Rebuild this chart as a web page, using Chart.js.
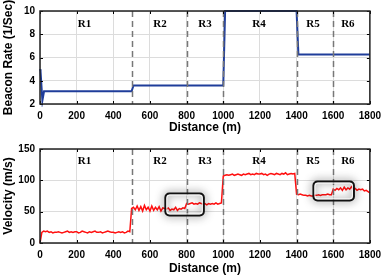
<!DOCTYPE html>
<html lang="en">
<head>
<meta charset="UTF-8">
<title>Beacon rate and velocity</title>
<script src="https://cdn.jsdelivr.net/npm/chart.js"></script>
<style>
  body { margin: 0; background: #fff; }
  .wrap { position: absolute; left: 0; width: 387px; height: 138px; }
</style>
</head>
<body>
<div class="wrap" style="top:0"><canvas id="rateChart" width="387" height="138"></canvas></div>
<div class="wrap" style="top:138px"><canvas id="velChart" width="387" height="138"></canvas></div>
<script>
// region boundaries and labels
const regionBounds = [500, 800, 1000, 1400, 1600];
const regionNames = ['R1', 'R2', 'R3', 'R4', 'R5', 'R6'];
const regionCenters = [243, 655, 900, 1195, 1490, 1680];

// beacon rate (1/s) vs distance (m)
const beaconDist = [0, 3, 13, 22, 500, 510, 1000, 1010, 1400, 1410, 1800];
const beaconRate = [5.0, 4.8, 2.3, 3.1, 3.1, 3.6, 3.6, 10, 10, 6.25, 6.25];

// velocity (m/s), one sample every 10 m from 0 to 1800
const velStep = 10;
const velocity = [
  0, 17,
  19,18,19,17,18,16,17,17,18,17,
  16,17,18,19,17,18,17,18,18,16,
  17,19,18,17,16,18,17,18,19,17,
  17,18,16,17,18,19,18,17,17,16,
  17,18,17,18,16,17,19,
  18,
  55,57,53,59,52,58,51,60,53,57,
  51,59,52,57,53,58,51,56,55,54,
  56,52,54,53,57,52,55,54,56,55,
  63,62,63,64,62,63,62,64,63,62,63,61,63,62,63,62,64,62,63,64,
  107,108,109,108,109,110,108,109,110,109,108,110,109,110,111,109,110,109,111,110,
  110,111,109,110,108,110,111,110,109,111,110,109,111,110,112,109,110,111,110,111,
  78,77,78,77,76,76,75,76,75,75,76,76,77,76,77,77,77,78,77,77,
  86,84,87,85,88,84,89,85,88,86,90,85,87,84,86,85,86,83,84,82,80
];

const tickFont = { family: 'Liberation Sans, Arial, sans-serif', size: 10, weight: 'bold' };
const titleFont = { family: 'Liberation Sans, Arial, sans-serif', size: 12, weight: 'bold' };

const decor = {
  id: 'decor',
  afterDatasetsDraw(chart, args, opts) {
    const ctx = chart.ctx;
    const a = chart.chartArea;
    const xs = chart.scales.x, ys = chart.scales.y;
    ctx.save();
    // dashed region boundaries
    ctx.strokeStyle = '#777';
    ctx.lineWidth = 1.5;
    ctx.setLineDash([6, 4]);
    regionBounds.forEach(b => {
      const px = Math.round(xs.getPixelForValue(b)) + 0.5;
      ctx.beginPath();
      ctx.moveTo(px, a.top);
      ctx.lineTo(px, a.bottom);
      ctx.stroke();
    });
    ctx.setLineDash([]);
    // highlight boxes
    (opts.boxes || []).forEach(bx => {
      const x0 = xs.getPixelForValue(bx[0]), x1 = xs.getPixelForValue(bx[1]);
      const y0 = ys.getPixelForValue(bx[3]), y1 = ys.getPixelForValue(bx[2]);
      ctx.save();
      ctx.shadowColor = 'rgba(0,0,0,0.8)';
      ctx.shadowBlur = 8;
      ctx.strokeStyle = '#111';
      ctx.lineWidth = 2;
      ctx.beginPath();
      ctx.roundRect(x0, y0, x1 - x0, y1 - y0, 4);
      ctx.stroke();
      ctx.restore();
      ctx.strokeStyle = 'rgba(255,255,255,0.9)';
      ctx.lineWidth = 1;
      ctx.beginPath();
      ctx.roundRect(x0 + 1.5, y0 + 1.5, x1 - x0 - 3, y1 - y0 - 3, 3);
      ctx.stroke();
    });
    // region labels
    ctx.fillStyle = '#000';
    ctx.font = 'bold 11px "Liberation Serif", "Times New Roman", serif';
    ctx.textAlign = 'center';
    ctx.textBaseline = 'middle';
    regionNames.forEach((n, i) => {
      ctx.fillText(n, xs.getPixelForValue(regionCenters[i]), a.top + opts.labelOffset);
    });
    // inward tick marks
    ctx.strokeStyle = '#000';
    ctx.lineWidth = 1;
    xs.ticks.forEach(t => {
      const px = Math.round(xs.getPixelForValue(t.value)) + 0.5;
      ctx.beginPath();
      ctx.moveTo(px, a.bottom); ctx.lineTo(px, a.bottom - 3);
      ctx.moveTo(px, a.top); ctx.lineTo(px, a.top + 3);
      ctx.stroke();
    });
    ys.ticks.forEach(t => {
      const py = Math.round(ys.getPixelForValue(t.value)) + 0.5;
      ctx.beginPath();
      ctx.moveTo(a.left, py); ctx.lineTo(a.left + 3, py);
      ctx.moveTo(a.right, py); ctx.lineTo(a.right - 3, py);
      ctx.stroke();
    });
    // frame
    ctx.strokeStyle = '#222';
    ctx.lineWidth = 1.5;
    ctx.strokeRect(a.left, a.top, a.right - a.left, a.bottom - a.top);
    ctx.restore();
  }
};

function makeChart(id, points, color, width, yOpts, yTitle, padTop, xTitleBottom, plugOpts) {
  return new Chart(document.getElementById(id), {
    type: 'line',
    data: {
      datasets: [{
        data: points,
        borderColor: color,
        borderWidth: width,
        pointRadius: 0,
        tension: 0,
        fill: false,
        clip: 3
      }]
    },
    options: {
      responsive: false,
      animation: false,
      layout: { padding: { top: padTop, right: 13, left: 0, bottom: 0 } },
      plugins: { legend: { display: false }, tooltip: { enabled: false }, decor: plugOpts },
      scales: {
        x: {
          type: 'linear', min: 0, max: 1800,
          ticks: { stepSize: 200, font: tickFont, color: '#000', padding: 6, maxRotation: 0, callback: v => String(v) },
          grid: { color: '#dcdcdc', drawTicks: false },
          border: { display: false },
          title: { display: true, text: 'Distance (m)', font: titleFont, color: '#000', padding: { top: 0, bottom: xTitleBottom } },
          afterFit: s => { s.height = 138 - padTop - plugOpts.plotH; }
        },
        y: Object.assign({
          ticks: Object.assign({ font: tickFont, color: '#000', padding: 5, callback: v => String(v) }, yOpts.ticks),
          grid: { color: '#dcdcdc', drawTicks: false },
          border: { display: false },
          title: { display: true, text: yTitle, font: titleFont, color: '#000', padding: { top: 1, bottom: 0 } },
          afterFit: s => { s.width = 40; }
        }, yOpts.range)
      }
    },
    plugins: [decor]
  });
}

const ratePoints = beaconDist.map((d, i) => ({ x: d, y: beaconRate[i] }));
const velPoints = velocity.map((v, i) => ({ x: i * velStep, y: v }));

makeChart('rateChart', ratePoints, '#1f3d9a', 2,
  { range: { min: 2, max: 10 }, ticks: { stepSize: 2 } },
  'Beacon Rate (1/Sec)', 10, 3,
  { plotH: 94, labelOffset: 13, boxes: [] });

makeChart('velChart', velPoints, '#ff1010', 1.5,
  { range: { min: 0, max: 150 }, ticks: { stepSize: 50 } },
  'Velocity (m/s)', 6, 0,
  { plotH: 99, labelOffset: 12, boxes: [[684, 894, 44, 79], [1492, 1713, 68, 98]] });
</script>
</body>
</html>
